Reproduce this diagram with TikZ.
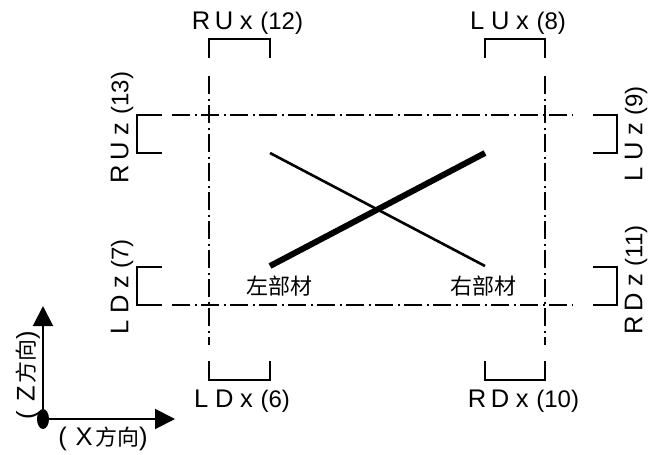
\documentclass[tikz,border=0pt]{standalone}
\usepackage{fontspec}
\setmainfont{Liberation Sans}
\newfontfamily\cjkf{Noto Sans CJK SC}
\usetikzlibrary{arrows.meta}
\tikzset{
  px/.style={x=1pt,y=-1pt},
  bracket/.style={line width=1.7pt,line cap=butt,line join=miter},
  chain/.style={line width=1.7pt,dash pattern=on 18pt off 4.5pt on 2pt off 4.5pt},
  lab/.style={inner sep=0pt,font=\fontsize{25.5}{26}\selectfont},
  cjklab/.style={inner sep=0pt,font=\fontsize{22}{24}\selectfont\cjkf},
  axis/.style={line width=2pt,-{Triangle[length=20pt,width=20pt]}}
}
\newcommand{\rs}{\hspace{0.18em}}
\newcommand{\ls}{\hspace{0.27em}}
\newcommand{\us}{\hspace{0.26em}}
\newcommand{\xs}{\hspace{0.3em}}
\newcommand{\nm}[1]{{\fontsize{24}{26}\selectfont(#1)}}
\newcommand{\fh}{{\cjkf\fontsize{22}{24}\selectfont 方向}}
\begin{document}
\begin{tikzpicture}[px]
\useasboundingbox (0,0) rectangle (648,455);
% chain lines
\draw[chain] (209,76) -- (209,345);
\draw[chain] (209,361) -- (209,380);
\draw[chain] (545,76) -- (545,345);
\draw[chain] (545,361) -- (545,380);
\draw[chain] (172,115) -- (572,115);
\draw[chain] (172,305) -- (572,305);
% brackets
\draw[bracket] (209,58) -- (209,39) -- (270,39) -- (270,58);
\draw[bracket] (485,58) -- (485,39) -- (545,39) -- (545,58);
\draw[bracket] (209,361) -- (209,380) -- (270,380) -- (270,361);
\draw[bracket] (485,361) -- (485,380) -- (545,380) -- (545,361);
\draw[bracket] (162,115) -- (137,115) -- (137,153) -- (162,153);
\draw[bracket] (162,267) -- (137,267) -- (137,305) -- (162,305);
\draw[bracket] (593,115) -- (617,115) -- (617,153) -- (593,153);
\draw[bracket] (593,267) -- (617,267) -- (617,305) -- (593,305);
% members
\draw[line width=2.6pt] (270,153) -- (485,266);
\draw[line width=6pt] (270,266) -- (485,153);
% labels
\node[lab] (rux) at (247.5,23) {R\rs U\us x\xs\nm{12}};
\node[lab] (lux) at (518,23) {L\ls U\us x\xs\nm{8}};
\node[lab] (ldx) at (242,401) {L\ls D\us x\xs\nm{6}};
\node[lab] (rdx) at (523.5,401) {R\rs D\us x\xs\nm{10}};
\node[lab,rotate=90] (ruz) at (122,127.5) {R\rs U\us z\xs\nm{13}};
\node[lab,rotate=90] (ldz) at (122,287) {L\ls D\us z\xs\nm{7}};
\node[lab,rotate=90] (luz) at (636,134) {L\ls U\us z\xs\nm{9}};
\node[lab,rotate=90] (rdz) at (636,280) {R\rs D\us z\xs\nm{11}};
\node[cjklab] (left) at (279.5,286) {左部材};
\node[cjklab] (right) at (483,286) {右部材};
% axes
\coordinate (o) at (43,419);
\coordinate (zend) at (43,306);
\coordinate (xend) at (175,419);
\draw[axis] (o) -- (zend);
\draw[axis] (o) -- (xend);
\fill (o) ellipse [x radius=6pt,y radius=10pt];
\node[lab,rotate=90] (zdir) at (28,375) {(\hspace{0.35em}Z\hspace{0.1em}\fh)};
\node[lab] (xdir) at (103,439) {(\hspace{0.35em}X\hspace{0.1em}\fh)};
\end{tikzpicture}
\end{document}
